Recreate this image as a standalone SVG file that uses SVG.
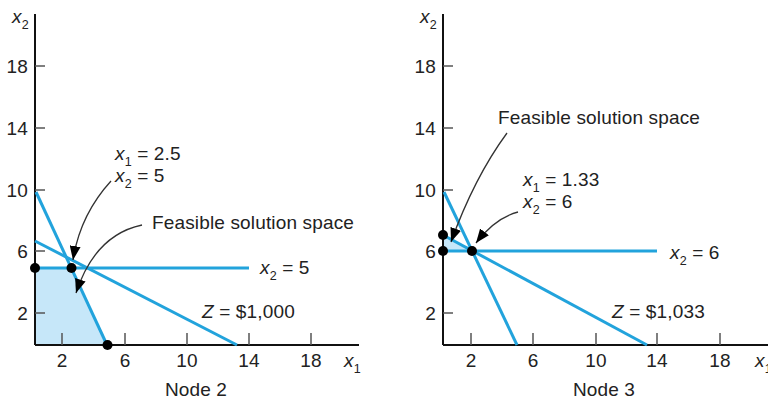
<svg xmlns="http://www.w3.org/2000/svg" width="768" height="400" viewBox="0 0 768 400">
<defs>
<style>
text{font-family:"Liberation Sans",Arial,sans-serif;font-size:19px;letter-spacing:0.15px;fill:#222}
.i{font-style:italic}
.s{font-size:12.5px}
.ax{stroke:#111;stroke-width:2;fill:none}
.tk{stroke:#555;stroke-width:1.5;fill:none}
.bl{stroke:#22a3dc;stroke-width:3;fill:none}
.sh{fill:#c6e7f9;stroke:none}
.ar{stroke:#333;stroke-width:1.3;fill:none;marker-end:url(#ah)}
.dt{fill:#000}
.m{text-anchor:middle}
.e{text-anchor:end}
</style>
<marker id="ah" markerUnits="userSpaceOnUse" markerWidth="15" markerHeight="11" refX="14" refY="5.5" orient="auto">
<path d="M0,0 L14,5.5 L0,11 Z" fill="#000"/>
</marker>
</defs>

<g id="node2-graph">
<polygon class="sh" points="35,268 72,268 107,345 35,345"/>
<g id="node2-axes">
<line class="ax" x1="35" y1="14" x2="35" y2="345"/>
<line class="ax" x1="35" y1="345" x2="359" y2="345"/>
<path class="tk" d="M35,66h10M35,128h10M35,190h10M35,251h10M35,313h10M62,345v-12M125,345v-12M187,345v-12M249,345v-12M311,345v-12"/>
<text x="12" y="23"><tspan class="i">x</tspan><tspan class="s" dy="6">2</tspan></text>
<text class="e" x="28" y="73">18</text>
<text class="e" x="28" y="135">14</text>
<text class="e" x="28" y="197">10</text>
<text class="e" x="28" y="258">6</text>
<text class="e" x="28" y="320">2</text>
<text class="m" x="62" y="367">2</text>
<text class="m" x="125" y="367">6</text>
<text class="m" x="187" y="367">10</text>
<text class="m" x="249" y="367">14</text>
<text class="m" x="311" y="367">18</text>
<text x="344" y="367"><tspan class="i">x</tspan><tspan class="s" dy="6">1</tspan></text>
</g>
<g id="node2-lines">
<line class="bl" x1="36" y1="192" x2="107" y2="345"/>
<line class="bl" x1="35" y1="241" x2="237" y2="345"/>
<line class="bl" x1="35" y1="268" x2="249" y2="268"/>
</g>
<g id="node2-points">
<circle class="dt" cx="35" cy="268" r="5"/>
<circle class="dt" cx="71.5" cy="268" r="5"/>
<circle class="dt" cx="107.5" cy="345" r="5"/>
</g>
<g id="node2-labels">
<text x="115" y="160"><tspan class="i">x</tspan><tspan class="s" dy="6">1</tspan><tspan dy="-6"> = 2.5</tspan></text>
<text x="115" y="182"><tspan class="i">x</tspan><tspan class="s" dy="6">2</tspan><tspan dy="-6"> = 5</tspan></text>
<text x="152" y="229">Feasible solution space</text>
<text x="260" y="274"><tspan class="i">x</tspan><tspan class="s" dy="6">2</tspan><tspan dy="-6"> = 5</tspan></text>
<text x="202" y="318"><tspan class="i">Z</tspan> = $1,000</text>
<text class="m" x="196" y="396">Node 2</text>
</g>
</g>

<g id="node3-graph">
<polygon class="sh" points="443,235 443,251 472,251"/>
<g id="node3-axes">
<line class="ax" x1="443" y1="14" x2="443" y2="345"/>
<line class="ax" x1="443" y1="345" x2="768" y2="345"/>
<path class="tk" d="M443,66h10M443,128h10M443,190h10M443,251h10M443,313h10M471,345v-12M533,345v-12M596,345v-12M657,345v-12M720,345v-12"/>
<text x="420" y="23"><tspan class="i">x</tspan><tspan class="s" dy="6">2</tspan></text>
<text class="e" x="436" y="73">18</text>
<text class="e" x="436" y="135">14</text>
<text class="e" x="436" y="197">10</text>
<text class="e" x="436" y="258">6</text>
<text class="e" x="436" y="320">2</text>
<text class="m" x="471" y="367">2</text>
<text class="m" x="533" y="367">6</text>
<text class="m" x="596" y="367">10</text>
<text class="m" x="657" y="367">14</text>
<text class="m" x="720" y="367">18</text>
<text x="755" y="367"><tspan class="i">x</tspan><tspan class="s" dy="6">1</tspan></text>
</g>
<g id="node3-lines">
<line class="bl" x1="444" y1="192" x2="517" y2="345"/>
<line class="bl" x1="443" y1="235" x2="647" y2="345"/>
<line class="bl" x1="443" y1="251" x2="657" y2="251"/>
</g>
<g id="node3-points">
<circle class="dt" cx="443" cy="235" r="5"/>
<circle class="dt" cx="443" cy="251" r="5"/>
<circle class="dt" cx="472" cy="251" r="5"/>
</g>
<g id="node3-labels">
<text x="498" y="124">Feasible solution space</text>
<text x="523" y="186"><tspan class="i">x</tspan><tspan class="s" dy="6">1</tspan><tspan dy="-6"> = 1.33</tspan></text>
<text x="523" y="208"><tspan class="i">x</tspan><tspan class="s" dy="6">2</tspan><tspan dy="-6"> = 6</tspan></text>
<text x="670" y="259"><tspan class="i">x</tspan><tspan class="s" dy="6">2</tspan><tspan dy="-6"> = 6</tspan></text>
<text x="612" y="318"><tspan class="i">Z</tspan> = $1,033</text>
<text class="m" x="604" y="396">Node 3</text>
</g>
</g>

<g id="connectors">
<path class="ar" d="M111,181 Q80,215 73,260"/>
<path class="ar" d="M142,225 Q95,235 76,293"/>
<path class="ar" d="M507,133 Q474,178 451,242"/>
<path class="ar" d="M518,212 Q495,218 476,243"/>
</g>
</svg>
